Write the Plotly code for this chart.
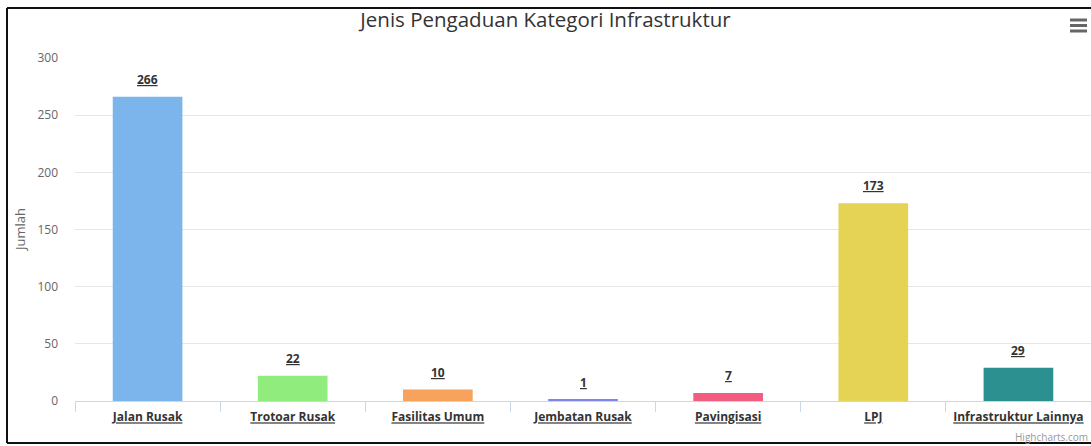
import plotly.graph_objects as go

categories = ["Jalan Rusak", "Trotoar Rusak", "Fasilitas Umum", "Jembatan Rusak",
              "Pavingisasi", "LPJ", "Infrastruktur Lainnya"]
values = [266, 22, 10, 1, 7, 173, 29]
colors = ["#7cb5ec", "#90ed7d", "#f7a35c", "#8085e9", "#f15c80", "#e4d354", "#2b908f"]
y_ticks = [0, 50, 100, 150, 200, 250, 300]

W, H = 1091, 446
L, R, T, B = 75, 0, 58, 45
pw, ph = W - L - R, H - T - B

def px_x(p):
    return (p - L) / pw

def px_y(p):
    return (H - B - p) / ph

FONT = "Open Sans, DejaVu Sans, sans-serif"

fig = go.Figure(go.Bar(
    x=categories,
    y=values,
    marker=dict(color=colors, line=dict(width=0)),
    hoverinfo="x+y",
))

frame = dict(color="#111111", width=2)
shapes = [
    dict(type="line", xref="paper", yref="paper", x0=px_x(7), x1=px_x(7),
         y0=px_y(443), y1=px_y(8), line=frame, layer="above"),
    dict(type="line", xref="paper", yref="paper", x0=px_x(7), x1=px_x(1091),
         y0=px_y(8), y1=px_y(8), line=frame, layer="above"),
    dict(type="line", xref="paper", yref="paper", x0=px_x(7), x1=px_x(1091),
         y0=px_y(443), y1=px_y(443), line=frame, layer="above"),
]
# hamburger menu icon
for yy in (20, 25.5, 31):
    shapes.append(dict(type="line", xref="paper", yref="paper",
                       x0=px_x(1070), x1=px_x(1087), y0=px_y(yy), y1=px_y(yy),
                       line=dict(color="#666666", width=3)))

annotations = [
    dict(x=c, y=v, xref="x", yref="y", text=f"<b><u>{v}</u></b>",
         showarrow=False, xanchor="center", yanchor="bottom", yshift=7,
         font=dict(family=FONT, size=12, color="#333333"))
    for c, v in zip(categories, values)
]
annotations += [
    dict(text="Jumlah", xref="paper", yref="paper", x=px_x(20), y=px_y(230),
         textangle=-90, showarrow=False, xanchor="center", yanchor="middle",
         font=dict(family=FONT, size=13, color="#666666")),
    dict(text="Highcharts.com", xref="paper", yref="paper", x=px_x(1090), y=px_y(437),
         showarrow=False, xanchor="right", yanchor="middle",
         font=dict(family=FONT, size=10, color="#999999")),
]

fig.update_layout(
    width=W, height=H,
    margin=dict(l=L, r=R, t=T, b=B, pad=0),
    paper_bgcolor="white", plot_bgcolor="white",
    bargap=0.52,
    showlegend=False,
    font=dict(family=FONT, color="#333333"),
    title=dict(text="Jenis Pengaduan Kategori Infrastruktur",
               x=0.5, xanchor="center", y=(H - 20) / H, yanchor="middle",
               font=dict(family=FONT, size=20.5, color="#333333")),
    xaxis=dict(
        type="category",
        tickmode="array", tickvals=categories,
        ticktext=[f"<b><u>{c}</u></b>" for c in categories],
        tickfont=dict(family=FONT, size=12, color="#333333"),
        showgrid=False, showline=True, linecolor="#ccd6eb", linewidth=1,
        ticks="outside", tickson="boundaries", ticklen=10, tickcolor="#ccd6eb",
        ticklabelstandoff=5,
        fixedrange=True,
    ),
    yaxis=dict(
        range=[0, 300], tickmode="array", tickvals=y_ticks,
        tickfont=dict(family=FONT, size=12, color="#666666"),
        showgrid=True, gridcolor="#e6e6e6", gridwidth=1,
        zeroline=False, showline=False, ticks="",
        ticklabelstandoff=16,
        fixedrange=True,
    ),
    shapes=shapes,
    annotations=annotations,
)

fig.write_html("out.html", config={"displayModeBar": False},
               post_script="document.body.style.margin='0';document.body.style.overflow='hidden';")
